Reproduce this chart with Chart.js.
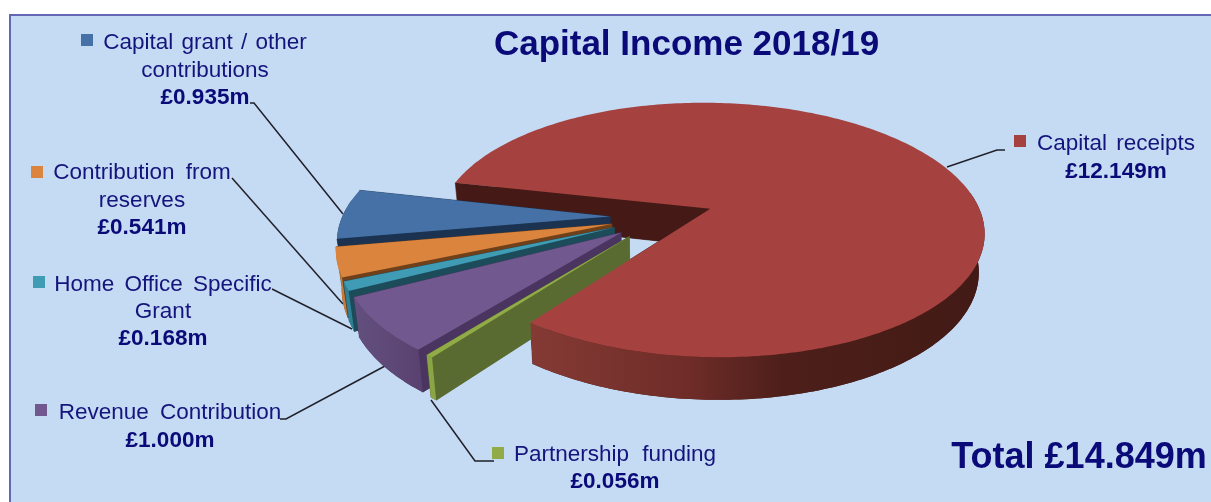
<!DOCTYPE html>
<html>
<head>
<meta charset="utf-8">
<style>
html,body{margin:0;padding:0;background:#fff;overflow:hidden}
canvas{display:block;filter:blur(0.55px)}
</style>
<script src="https://cdn.jsdelivr.net/npm/chart.js@4"></script>
</head>
<body>
<canvas id="c" width="1211" height="502"></canvas>
<script>
const categories = ['Capital receipts','Partnership funding','Revenue Contribution','Home Office Specific Grant','Contribution from reserves','Capital grant / other contributions'];
const values = [12.149,0.056,1.000,0.168,0.541,0.935];
const valueLabels = ['£12.149m','£0.056m','£1.000m','£0.168m','£0.541m','£0.935m'];
const chartTitle = 'Capital Income 2018/19';
const totalLabel = 'Total £14.849m';
const topColours = ['#A5423F','#91AC46','#71588F','#409BB4','#DB843D','#4571A7'];
const innerWallColours = ['#451A16','#5A6B32','#4A3560','#1C4B5A','#70401A','#1B3350'];
const outerWallColours = [
  [[0,'#853A34'],[0.35,'#6E2C28'],[0.55,'#4E1F1A'],[1,'#421A15']],
  [[0,'#8AA544'],[1,'#8AA544']],
  [[0,'#63507F'],[1,'#5A4270']],
  [[0,'#2F7F95'],[1,'#2F7F95']],
  [[0,'#C87A38'],[1,'#C87A38']],
  [[0,'#1B3350'],[1,'#1B3350']]
];
const labelLines = [
  ['Capital receipts'],
  ['Partnership funding'],
  ['Revenue Contribution'],
  ['Home Office Specific','Grant'],
  ['Contribution from','reserves'],
  ['Capital grant / other','contributions']
];
const labelLayout = [
  {cx:1116,base:150,step:28,key:[1014,135],wordGap:3,leader:[[1005,150],[997,150],[947,167]]},
  {cx:615,base:461,step:27,key:[492,447],wordGap:7,leader:[[494,461],[475,461],[431,400]]},
  {cx:170,base:419,step:28,key:[35,404],wordGap:5,leader:[[280,419],[286,419],[385,366]]},
  {cx:163,base:291,step:27,key:[33,276],wordGap:4,leader:[[272,289],[352,329]]},
  {cx:142,base:179,step:27.5,key:[31,166],wordGap:5,leader:[[232,178],[343,304]]},
  {cx:205,base:49,step:27.5,key:[81,34],wordGap:2,leader:[[250,103],[254,103],[343,214]]}
];

const PERSP = 0.00062, FLAT = 0.465, DEPTH = 38, SHRINK = 0.018, SMALL_SLICE_SCALE = 0.985;
const rad = d => d*Math.PI/180;

function project(el, u, v, z){
  const s = 1/(1-PERSP*v), f = 1-SHRINK*z;
  return [el.x+u*s*f, el.y+FLAT*v*s*f+DEPTH*z*s];
}
function shift(el){
  const off = (el.options.offset||0)/4, mid=(el.startAngle+el.endAngle)/2;
  return [Math.cos(mid)*off, Math.sin(mid)*off];
}
function radiusOf(el,i){ return el.outerRadius*(i===0?1:SMALL_SLICE_SCALE); }
function arcAngles(el){
  const out=[], n=Math.max(2,Math.ceil((el.endAngle-el.startAngle)/rad(1)));
  for(let i=0;i<=n;i++) out.push(el.startAngle+(el.endAngle-el.startAngle)*i/n);
  return out;
}
function rimPoint(el,i,t,z){
  const [ou,ov]=shift(el), R=radiusOf(el,i);
  return project(el,ou+R*Math.cos(t),ov+R*Math.sin(t),z);
}
function facePath(ctx, el, i, z){
  const [ou,ov]=shift(el);
  ctx.beginPath();
  const a=project(el,ou,ov,z); ctx.moveTo(a[0],a[1]);
  for(const t of arcAngles(el)){
    const p=rimPoint(el,i,t,z);
    ctx.lineTo(p[0],p[1]);
  }
  ctx.closePath();
}
function drawRadialWalls(ctx, el, i){
  const [ou,ov]=shift(el);
  ctx.fillStyle=innerWallColours[i];
  ctx.strokeStyle=innerWallColours[i];
  ctx.lineWidth=0.6;
  facePath(ctx,el,i,1); ctx.fill();
  for(const t of [el.startAngle,el.endAngle]){
    const a0=project(el,ou,ov,0), a1=project(el,ou,ov,1);
    const r0=rimPoint(el,i,t,0), r1=rimPoint(el,i,t,1);
    ctx.beginPath();
    ctx.moveTo(a0[0],a0[1]); ctx.lineTo(r0[0],r0[1]); ctx.lineTo(r1[0],r1[1]); ctx.lineTo(a1[0],a1[1]);
    ctx.closePath(); ctx.fill(); ctx.stroke();
  }
}
function drawOuterWall(ctx, el, i){
  const ang=arcAngles(el).filter(t=>Math.sin(t)>-0.15);
  if(ang.length<2) return;
  const list=outerWallColours[i];
  let g;
  if(i===0){
    g=ctx.createLinearGradient(532,0,985,0);
  }else{
    const pts=ang.map(t=>rimPoint(el,i,t,0)[0]);
    g=ctx.createLinearGradient(Math.min(...pts),0,Math.max(...pts)+1,0);
  }
  for(const [o,c] of list) g.addColorStop(o,c);
  ctx.fillStyle=g;
  ctx.beginPath();
  ang.forEach((t,n)=>{
    const p=rimPoint(el,i,t,0);
    n?ctx.lineTo(p[0],p[1]):ctx.moveTo(p[0],p[1]);
  });
  for(const t of ang.slice().reverse()){
    const p=rimPoint(el,i,t,1);
    ctx.lineTo(p[0],p[1]);
  }
  ctx.closePath(); ctx.fill();
}
function drawTop(ctx, el, i){
  facePath(ctx,el,i,0);
  ctx.fillStyle=el.options.backgroundColor;
  ctx.fill();
}

const pie3d = {
  id:'pie3d',
  beforeDraw(chart){
    const ctx=chart.ctx;
    ctx.save();
    ctx.fillStyle='#C5DAF3';
    ctx.fillRect(10,15,1201,487);
    ctx.strokeStyle='#6468B4'; ctx.lineWidth=2;
    ctx.beginPath(); ctx.moveTo(10,502); ctx.lineTo(10,15); ctx.lineTo(1211,15); ctx.stroke();
    ctx.restore();
  },
  beforeDatasetDraw(chart,args){
    const ctx=chart.ctx, arcs=chart.getDatasetMeta(args.index).data;
    ctx.save();
    ctx.strokeStyle='#20202A'; ctx.lineWidth=1.5;
    for(const l of labelLayout){
      ctx.beginPath();
      l.leader.forEach((p,n)=>n?ctx.lineTo(p[0],p[1]):ctx.moveTo(p[0],p[1]));
      ctx.stroke();
    }
    drawRadialWalls(ctx,arcs[0],0);
    for(let i=arcs.length-1;i>=1;i--){
      drawRadialWalls(ctx,arcs[i],i);
      drawOuterWall(ctx,arcs[i],i);
      drawTop(ctx,arcs[i],i);
    }
    drawOuterWall(ctx,arcs[0],0);
    drawTop(ctx,arcs[0],0);
    ctx.restore();
    return false;
  },
  afterDraw(chart){
    const ctx=chart.ctx;
    ctx.save();
    ctx.textBaseline='alphabetic';
    ctx.textAlign='center';
    ctx.fillStyle='#0A0A78';
    ctx.font='bold 35px "Liberation Sans", Arial, sans-serif';
    ctx.fillText(chartTitle,686.5,55);
    ctx.font='bold 36px "Liberation Sans", Arial, sans-serif';
    ctx.fillText(totalLabel,1079,468);
    labelLayout.forEach((l,i)=>{
      ctx.fillStyle=topColours[i];
      ctx.fillRect(l.key[0],l.key[1],12,12);
      let y=l.base;
      ctx.fillStyle='#14147D';
      ctx.font='22.5px "Liberation Sans", Arial, sans-serif';
      ctx.wordSpacing=l.wordGap+'px';
      labelLines[i].forEach(t=>{ ctx.fillText(t,l.cx,y); y+=l.step; });
      ctx.wordSpacing='0px';
      ctx.fillStyle='#0A0A78';
      ctx.font='bold 22.5px "Liberation Sans", Arial, sans-serif';
      ctx.fillText(valueLabels[i],l.cx,y);
    });
    ctx.restore();
  }
};

new Chart(document.getElementById('c'),{
  type:'pie',
  data:{labels:categories,datasets:[{data:values,backgroundColor:topColours,borderWidth:0,offset:208,hoverOffset:0}]},
  options:{
    responsive:false,animation:false,
    rotation:282.6,
    radius:272,
    layout:{padding:{left:113,right:0,top:0,bottom:68}},
    plugins:{legend:{display:false},tooltip:{enabled:false}},
    events:[]
  },
  plugins:[pie3d]
});
</script>
</body>
</html>
